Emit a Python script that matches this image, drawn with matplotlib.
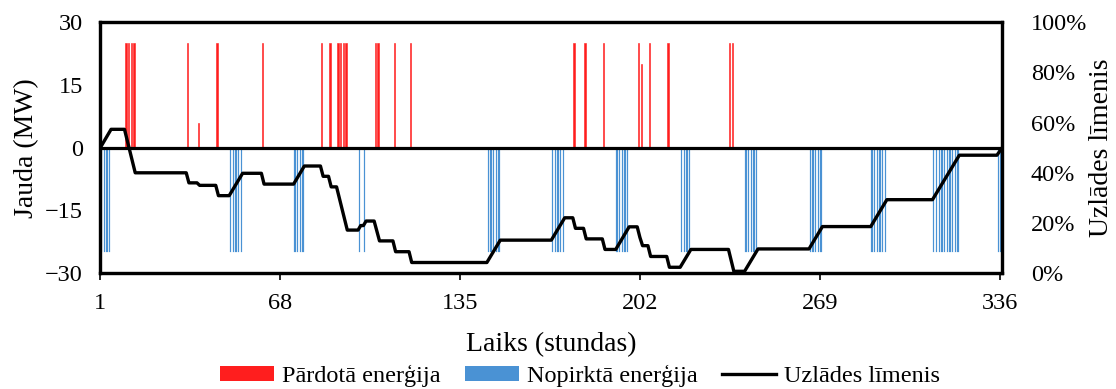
import matplotlib
matplotlib.use("Agg")
import matplotlib.pyplot as plt
from matplotlib.patches import Patch
from matplotlib.lines import Line2D

plt.rcParams['font.family'] = ['Liberation Serif', 'DejaVu Serif']
plt.rcParams['axes.unicode_minus'] = True

# ---- data ----
sold_hours = [10, 11, 12, 13, 33, 37, 44, 61, 83, 86, 89, 90, 91, 92, 103, 104, 110, 116,
              177, 181, 188, 201, 202, 205, 212, 235, 236]
sold_mw = [25, 25, 25, 25, 25, 6, 25, 25, 25, 25, 25, 25, 25, 25, 25, 25, 25, 25,
           25, 25, 25, 25, 20, 25, 25, 25, 25]

bought_hours = [1, 2, 3, 4, 49, 50, 51, 52, 53, 73, 74, 75, 76, 97, 99,
                145, 146, 147, 148, 149, 169, 170, 171, 172, 173,
                193, 194, 195, 196, 197, 217, 218, 219, 220,
                241, 242, 243, 244, 245, 265, 266, 267, 268, 269,
                288, 289, 290, 291, 292, 293,
                311, 312, 313, 314, 315, 316, 317, 318, 319, 320, 335, 336]
bought_mw = [-25] * len(bought_hours)

soc_hours = [0, 4, 9, 13, 32, 33, 36, 37, 43, 44, 48, 53, 60, 61, 72, 76, 82, 83, 85, 86,
             88, 92, 96, 97, 98, 99, 102, 104, 109, 110, 115, 116, 144, 149, 168, 173,
             176, 177, 180, 181, 187, 188, 192, 197, 200, 201, 202, 204, 205, 211, 212,
             216, 220, 234, 236, 240, 245, 264, 269, 287, 293, 310, 320, 334, 336]
soc_pct = [50.0, 57.3, 57.3, 40.0, 40.0, 36.0, 36.0, 35.0, 35.0, 30.9, 30.9, 39.8, 39.8,
           35.5, 35.5, 42.7, 42.7, 38.6, 38.6, 34.4, 34.4, 17.2, 17.2, 19.0, 19.0, 20.8,
           20.8, 12.9, 12.9, 8.6, 8.6, 4.3, 4.3, 13.2, 13.2, 22.1, 22.1, 17.9, 17.9, 13.7,
           13.7, 9.5, 9.5, 18.5, 18.5, 14.3, 11.0, 11.0, 6.7, 6.7, 2.4, 2.4, 9.5, 9.5,
           0.8, 0.8, 9.7, 9.7, 18.6, 18.6, 29.3, 29.3, 47.0, 47.0, 50.0]

x_tick_labels = [1, 68, 135, 202, 269, 336]
y_ticks = [-30, -15, 0, 15, 30]
pct_ticks = [0, 20, 40, 60, 80, 100]

RED = '#FF1E1E'
BLUE = '#4A92D4'
FS = 17.5
FS_T = 20

fig = plt.figure(figsize=(11.16, 3.89), dpi=100)
ax = fig.add_axes([0.0899, 0.2974, 0.8082, 0.6460])

ax.bar([h - 0.5 for h in sold_hours], sold_mw, width=0.5, color=RED,
       edgecolor=RED, linewidth=0.4, zorder=2)
ax.bar([h - 0.5 for h in bought_hours], bought_mw, width=0.5, color=BLUE,
       edgecolor=BLUE, linewidth=0.15, zorder=2)
ax.axhline(0, color='black', lw=2.3, zorder=3)

ax.set_xlim(0, 336)
ax.set_ylim(-30, 30)
ax.set_yticks(y_ticks)
ax.set_xticks([v - 1 for v in x_tick_labels])
ax.set_xticklabels([str(v) for v in x_tick_labels])
ax.tick_params(axis='x', direction='out', length=5, width=1.2, pad=9.5, labelsize=FS)
ax.tick_params(axis='y', length=0, pad=12.5, labelsize=FS)
ax.set_xlabel('Laiks (stundas)', fontsize=FS_T, labelpad=13)
ax.set_ylabel('Jauda (MW)', fontsize=FS_T, labelpad=4)
for s in ax.spines.values():
    s.set_linewidth(2.3)

ax2 = ax.twinx()
ax2.plot(soc_hours, soc_pct, color='black', lw=2.4, zorder=4)
ax2.set_ylim(0, 100)
ax2.set_yticks(pct_ticks)
ax2.set_yticklabels([f'{v}%' for v in pct_ticks])
ax2.tick_params(axis='y', length=0, pad=20.5, labelsize=FS)
ax2.set_ylabel('Uzlādes līmenis', fontsize=FS_T, labelpad=1)
for s in ax2.spines.values():
    s.set_linewidth(2.3)

handles = [Patch(facecolor=RED, edgecolor='none'),
           Patch(facecolor=BLUE, edgecolor='none'),
           Line2D([0], [0], color='black', lw=2.4)]
labels = ['Pārdotā enerģija', 'Nopirktā enerģija', 'Uzlādes līmenis']
fig.legend(handles, labels, loc='center', bbox_to_anchor=(0.52, 0.033), ncol=3,
           frameon=False, fontsize=FS, handlelength=2.2, handleheight=0.55,
           handletextpad=0.35, columnspacing=1.0)

fig.savefig('out.png', dpi=100)
